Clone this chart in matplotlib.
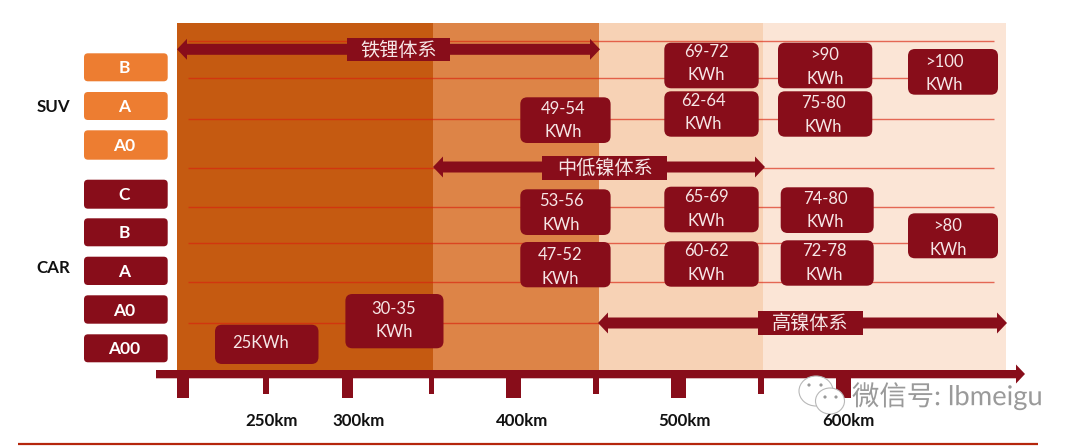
import matplotlib
matplotlib.use("Agg")
import matplotlib.patheffects as pe
import matplotlib.pyplot as plt
from matplotlib.patches import Ellipse, Circle, FancyBboxPatch, Polygon, Rectangle

plt.rcParams["font.family"] = ["Lato", "Noto Sans CJK SC", "DejaVu Sans"]

# Chart content
suv_classes = ["B", "A", "A0"]
car_classes = ["C", "B", "A", "A0", "A00"]
group_names = ["SUV", "CAR"]
range_labels = ["250km", "300km", "400km", "500km", "600km"]
chem_labels = ["铁锂体系", "中低镍体系", "高镍体系"]
energy_labels = [
    ["25KWh"], ["30-35", "KWh"],
    ["49-54", "KWh"], ["53-56", "KWh"], ["47-52", "KWh"],
    ["69-72", "KWh"], ["62-64", "KWh"], ["65-69", "KWh"], ["60-62", "KWh"],
    [">90", "KWh"], ["75-80", "KWh"], ["74-80", "KWh"], ["72-78", "KWh"],
    [">100", "KWh"], [">80", "KWh"],
]
watermark = "微信号: lbmeigu"

# Layout, in pixels of the 1080x446 canvas
DARK = "#880D1A"
ORANGE = "#ED7D31"
BANDS = [(177, 433, "#C55A11"), (433, 598.5, "#DD8447"),
         (598.5, 763, "#F7D2B5"), (763, 1005.5, "#FBE5D6")]
GRID_Y = [40.7, 78.3, 118.7, 168, 207.3, 243.3, 282, 323]
SUV_Y = [(53.3, 81.3), (92, 120), (130.3, 159.7)]
CAR_Y = [(179.7, 208.7), (218.3, 246.3), (256.7, 285), (295.3, 323.7), (334.3, 362.3)]
# x0, x1, y0, y1, text x, line-1 y, line-2 y
ENERGY_BOX = [
    (215, 318.5, 324.7, 364, 261, 342, None),
    (345.4, 443.5, 294, 348.3, 394, 307.5, 331),
    (520.3, 610.6, 97.3, 143, 563, 107.5, 131),
    (520.3, 610.6, 189.3, 235, 561, 200, 224),
    (520.3, 610.6, 242, 287.3, 560, 254, 278),
    (664.3, 758.7, 42.7, 88.3, 706, 51, 74.5),
    (664.3, 758.7, 91.3, 136.7, 703, 99.5, 123),
    (664.3, 758.7, 186.7, 232.3, 706, 196, 219.5),
    (664.3, 758.7, 241.3, 286.7, 706, 250, 273.5),
    (778, 872.3, 42.7, 88.3, 825, 54, 77.5),
    (778, 872.3, 91.3, 136.7, 823, 102.5, 126),
    (780.7, 873.7, 187.3, 233, 825, 197.5, 221),
    (780.7, 873.7, 240.3, 285.7, 824, 250, 273.5),
    (908, 998, 49, 94.7, 944, 61, 84.5),
    (908, 998, 213.3, 258.3, 948, 225, 249),
]
# x0, x1, y, label x0, x1, y0, y1
CHEM_ARROW = [
    (177, 600, 49.3, 347, 449.7, 37.7, 61.3),
    (433, 765, 167, 542.4, 667, 156, 179.7),
    (598, 1007, 323, 757.6, 863, 311.3, 335.3),
]
BIG_TICKS = [(177, 188.7), (341.6, 353), (506, 521), (670.5, 686.3), (835.5, 851)]
SMALL_TICKS = [(263.4, 269.3), (428.7, 434), (593.4, 599), (757.6, 763.6)]
RANGE_X = [272, 359, 522, 685, 848]
TEXT_SHIFT = 1


def rounded(ax, x0, x1, y0, y1, color, r=7, z=3):
    ax.add_patch(FancyBboxPatch((x0, y0), x1 - x0, y1 - y0,
                                boxstyle=f"round,pad=0,rounding_size={r}",
                                fc=color, ec="none", zorder=z))


def double_arrow(ax, x0, x1, y, z=3):
    shaft, head, hl = 5.5, 10.5, 10
    pts = [(x0, y), (x0 + hl, y - head), (x0 + hl, y - shaft),
           (x1 - hl, y - shaft), (x1 - hl, y - head), (x1, y),
           (x1 - hl, y + head), (x1 - hl, y + shaft),
           (x0 + hl, y + shaft), (x0 + hl, y + head)]
    ax.add_patch(Polygon(pts, closed=True, fc=DARK, ec="none", zorder=z))


fig = plt.figure(figsize=(10.8, 4.46), dpi=100)
ax = fig.add_axes([0, 0, 1, 1])
ax.set_xlim(0, 1080)
ax.set_ylim(446, 0)
ax.axis("off")

for x0, x1, color in BANDS:
    ax.add_patch(Rectangle((x0, 23), x1 - x0, 347, fc=color, ec="none", zorder=1))

ax.hlines(GRID_Y, 188, 994, color="#D9230F", alpha=0.65, lw=1.0, zorder=2)

# class buttons on the left
for name, (y0, y1) in zip(suv_classes, SUV_Y):
    rounded(ax, 84, 167.7, y0, y1, ORANGE, r=4)
    ax.text(124, (y0 + y1) / 2 + TEXT_SHIFT, name, color="white", fontsize=12.5, fontweight="bold",
            ha="center", va="center", zorder=4)
for name, (y0, y1) in zip(car_classes, CAR_Y):
    rounded(ax, 84, 167.7, y0, y1, DARK, r=4)
    ax.text(124, (y0 + y1) / 2 + TEXT_SHIFT, name, color="white", fontsize=12.5, fontweight="bold",
            ha="center", va="center", zorder=4)
for name, y in zip(group_names, [106, 267]):
    ax.text(53, y + TEXT_SHIFT, name, color="#111111", fontsize=12.2, fontweight="bold",
            ha="center", va="center")

# pack energy boxes
for lines, (x0, x1, y0, y1, tx, y_a, y_b) in zip(energy_labels, ENERGY_BOX):
    rounded(ax, x0, x1, y0, y1, DARK)
    ax.text(tx, y_a + TEXT_SHIFT, lines[0], color="#F6E6E6", fontsize=12, ha="center", va="center", zorder=4)
    if y_b is not None:
        ax.text(tx, y_b + TEXT_SHIFT, lines[1], color="#F6E6E6", fontsize=12, ha="center", va="center", zorder=4)

# chemistry arrows
for name, (x0, x1, y, lx0, lx1, ly0, ly1) in zip(chem_labels, CHEM_ARROW):
    double_arrow(ax, x0, x1, y)
    ax.add_patch(Rectangle((lx0, ly0), lx1 - lx0, ly1 - ly0, fc=DARK, ec="none", zorder=3))
    ax.text((lx0 + lx1) / 2, (ly0 + ly1) / 2, name, color="#F6E6E6", fontsize=13.8,
            ha="center", va="center", zorder=4)

# range axis
ax.add_patch(Polygon([(156, 370), (1016, 370), (1016, 364.5), (1025, 374), (1016, 383.5),
                      (1016, 378.3), (156, 378.3)], closed=True, fc=DARK, ec="none", zorder=3))
for x0, x1 in BIG_TICKS:
    ax.add_patch(Rectangle((x0, 378), x1 - x0, 20, fc=DARK, ec="none", zorder=3))
for x0, x1 in SMALL_TICKS:
    ax.add_patch(Rectangle((x0, 378), x1 - x0, 16, fc=DARK, ec="none", zorder=3))
for name, x in zip(range_labels, RANGE_X):
    ax.text(x, 420 + TEXT_SHIFT, name, color="#111111", fontsize=12.2, fontweight="bold",
            ha="center", va="center", zorder=7)

ax.hlines(443.7, 18, 1037.6, color="#B5260C", lw=1.6)

# watermark
for cx, cy, w, h in [(816, 391, 34, 30), (830, 401, 29, 26)]:
    ax.add_patch(Ellipse((cx, cy), w, h, fc="white", ec="#B8B8B8", lw=0.8, zorder=5))
for cx, cy in [(809, 385), (821, 385), (825, 397), (836, 397)]:
    ax.add_patch(Circle((cx, cy), 1.6, fc="#999999", ec="none", zorder=6))
ax.text(852, 396, watermark, color="#9A9A9A", fontsize=19.7, ha="left", va="center", zorder=6,
        path_effects=[pe.withStroke(linewidth=2, foreground="white")])

fig.savefig("out.png", dpi=100)
